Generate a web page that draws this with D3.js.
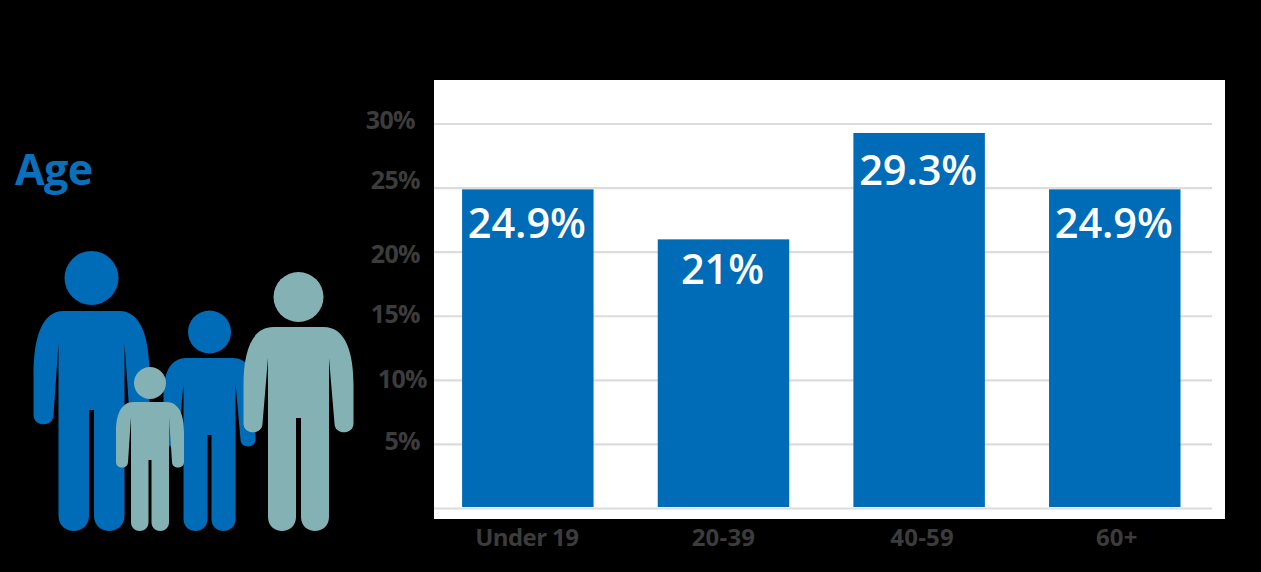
<!DOCTYPE html>
<html>
<head>
<meta charset="utf-8">
<script src="https://cdn.jsdelivr.net/npm/d3@7/dist/d3.min.js"></script>
<style>
html,body{margin:0;padding:0;background:#000;overflow:hidden}
svg{display:block}
text{font-family:"Open Sans",sans-serif}
</style>
</head>
<body>
<div id="chart"></div>
<script>
const categories = ["Under 19", "20-39", "40-59", "60+"];
const values = [24.9, 21, 29.3, 24.9];
const valueLabels = ["24.9%", "21%", "29.3%", "24.9%"];
const yTicks = [0, 5, 10, 15, 20, 25, 30];
const title = "Age";

const W = 1261, H = 572;
const BLUE = "#006bb6", TEAL = "#84b1b4", GREY = "#3c3c3c", GRID = "#dcdcdc";

const svg = d3.select("#chart").append("svg").attr("width", W).attr("height", H);
svg.append("rect").attr("width", W).attr("height", H).attr("fill", "#000");

// white plot panel
svg.append("rect").attr("x", 434).attr("y", 80).attr("width", 791).attr("height", 439).attr("fill", "#fff");

const x = d3.scaleBand().domain(categories).range([430, 1212.6]).paddingInner(0.328).paddingOuter(0.164);
const y = d3.scaleLinear().domain([0, 30]).range([508, 123.5]);

// y axis: gridlines + labels
const labelNudge = {0:[0,0],5:[0,-3],10:[7,-1],15:[0,-2],20:[0,2],25:[0,-8],30:[-5,-4]};
const yAxis = d3.axisLeft(y).tickValues(yTicks).tickSize(0).tickFormat(d => d === 0 ? "" : d + "%");
const yG = svg.append("g").attr("transform", "translate(434,0)").call(yAxis);
yG.select(".domain").remove();
yG.selectAll(".tick line").attr("x1", 0).attr("x2", 778).attr("stroke", GRID).attr("stroke-width", 2.2);
yG.selectAll(".tick text")
  .attr("x", d => -14 + labelNudge[d][0])
  .attr("y", d => labelNudge[d][1])
  .attr("dy", "0.36em")
  .attr("text-anchor", "end")
  .attr("fill", GREY)
  .attr("font-size", 25)
  .attr("font-weight", 700)
  .attr("letter-spacing", -0.6);

// x axis labels
const xNudge = [0, 1, 4, 3];
const xAxis = d3.axisBottom(x).tickSize(0);
const xG = svg.append("g").attr("transform", "translate(-1,519)").call(xAxis);
xG.select(".domain").remove();
xG.selectAll(".tick text")
  .attr("x", (d, i) => xNudge[i])
  .attr("y", 27).attr("dy", 0)
  .attr("fill", GREY)
  .attr("font-size", 24)
  .attr("font-weight", 700)
  .attr("letter-spacing", (d, i) => i === 0 ? -0.6 : 0.2);

// bars
svg.append("g").selectAll("rect").data(values).join("rect")
  .attr("x", (d, i) => x(categories[i]))
  .attr("y", d => y(d) + 0.5)
  .attr("width", x.bandwidth())
  .attr("height", d => y(0) - y(d) - 1.5)
  .attr("fill", BLUE);

// bar value labels
const labelDrop = [49, 45, 53, 49];
svg.append("g").selectAll("text").data(values).join("text")
  .attr("x", (d, i) => x(categories[i]) + x.bandwidth() / 2 - 1)
  .attr("y", (d, i) => y(d) + labelDrop[i])
  .attr("text-anchor", "middle")
  .attr("fill", "#fff")
  .attr("font-size", 41.5)
  .attr("font-weight", 600)
  .attr("letter-spacing", -0.1)
  .text((d, i) => valueLabels[i]);

// title
svg.append("text").attr("x", 15).attr("y", 185)
  .attr("fill", "#0a70bb").attr("font-size", 43).attr("font-weight", 700)
  .attr("letter-spacing", -0.6).text(title);

// family pictogram
function person(p, color) {
  const g = svg.append("g").attr("fill", color);
  g.append("circle").attr("cx", p.cx).attr("cy", p.hy).attr("r", p.hr);
  const path = d3.path();
  const R = v => p.cx + v, L = v => p.cx - v;
  const legW = p.torso - p.gap;
  const legR = legW / 2;
  path.moveTo(L(p.shoulder), p.top);
  path.lineTo(R(p.shoulder), p.top);
  // right arm
  path.bezierCurveTo(R(p.outer - (p.outer - p.shoulder) * 0.25), p.top, R(p.outer), p.top + (p.armMid - p.top) * 0.45, R(p.outer), p.armMid);
  path.lineTo(R(p.outer), p.armB - p.armW / 2);
  path.bezierCurveTo(R(p.outer), p.armB + p.armW * 0.12, R(p.outer - p.armW), p.armB + p.armW * 0.12, R(p.outer - p.armW), p.armB - p.armW / 2);
  path.lineTo(R(p.torso), p.pit);
  path.lineTo(R(p.torso), p.bottom - legR);
  // right leg
  path.bezierCurveTo(R(p.torso), p.bottom + legR * 0.33, R(p.gap), p.bottom + legR * 0.33, R(p.gap), p.bottom - legR);
  path.lineTo(R(p.gap), p.crotch);
  path.lineTo(L(p.gap), p.crotch);
  path.lineTo(L(p.gap), p.bottom - legR);
  // left leg
  path.bezierCurveTo(L(p.gap), p.bottom + legR * 0.33, L(p.torso), p.bottom + legR * 0.33, L(p.torso), p.bottom - legR);
  path.lineTo(L(p.torso), p.pit);
  path.lineTo(L(p.outer - p.armW), p.armB - p.armW / 2);
  path.bezierCurveTo(L(p.outer - p.armW), p.armB + p.armW * 0.12, L(p.outer), p.armB + p.armW * 0.12, L(p.outer), p.armB - p.armW / 2);
  path.lineTo(L(p.outer), p.armMid);
  path.bezierCurveTo(L(p.outer), p.top + (p.armMid - p.top) * 0.45, L(p.outer - (p.outer - p.shoulder) * 0.25), p.top, L(p.shoulder), p.top);
  path.closePath();
  g.append("path").attr("d", path.toString());
}
person({cx:91.5, hy:278, hr:27, top:311, shoulder:28, outer:58, armMid:375, armB:425, armW:20, torso:33, pit:343, crotch:410, bottom:531, gap:2.5}, BLUE);
person({cx:209.5, hy:332, hr:21.5, top:358, shoulder:23, outer:46, armMid:395, armB:447, armW:15, torso:26, pit:383, crotch:435, bottom:531, gap:2}, BLUE);
person({cx:150, hy:383, hr:16, top:402, shoulder:16, outer:34, armMid:432, armB:468, armW:12, torso:19, pit:417, crotch:460, bottom:531, gap:1.5}, TEAL);
person({cx:298.5, hy:297, hr:25, top:327, shoulder:25, outer:55, armMid:385, armB:433, armW:19, torso:30.5, pit:358, crotch:418, bottom:531, gap:2.5}, TEAL);
</script>
</body>
</html>
